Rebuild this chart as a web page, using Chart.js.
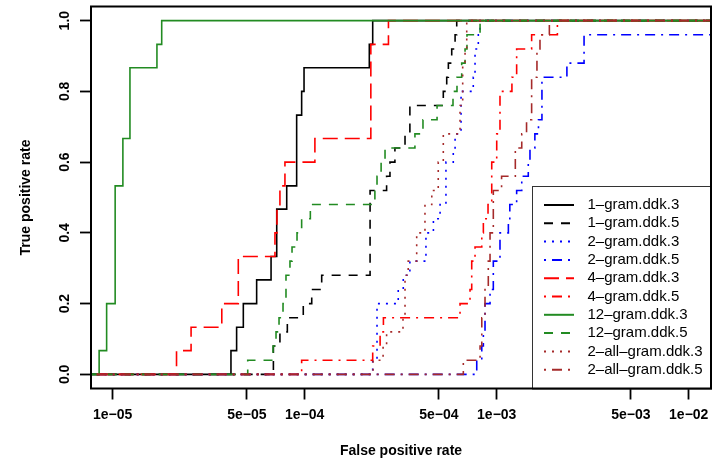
<!DOCTYPE html>
<html>
<head>
<meta charset="utf-8">
<script src="https://cdn.jsdelivr.net/npm/chart.js@4.4.0/dist/chart.umd.min.js"></script>
<style>
    html, body { margin: 0; padding: 0; background: #fff; }
</style>
</head>
<body>
<canvas id="rocChart" width="725" height="466"></canvas>
<script>
// ROC-Kurven: False positive rate (log) gegen True positive rate
const seriesNames = [
    '1–gram.ddk.3', '1–gram.ddk.5', '2–gram.ddk.3', '2–gram.ddk.5', '4–gram.ddk.3',
    '4–gram.ddk.5', '12–gram.ddk.3', '12–gram.ddk.5', '2–all–gram.ddk.3', '2–all–gram.ddk.5'
];
const xTicks = [1e-5, 5e-5, 1e-4, 5e-4, 1e-3, 5e-3, 1e-2];
const yTicks = [0, 0.2, 0.4, 0.6, 0.8, 1.0];

const fpr1gram3 = [4.13e-5, 4.42e-5, 4.79e-5, 5.62e-5, 6.68e-5, 7.15e-5, 8.06e-5, 9.08e-5, 9.64e-5, 9.92e-5, 2.17e-4, 2.26e-4];
const tpr1gram3 = [0.067, 0.133, 0.2, 0.267, 0.333, 0.467, 0.533, 0.733, 0.8, 0.867, 0.933, 1.0];

const fpr1gram5 = [6.87e-5, 7.43e-5, 8.12e-5, 9.83e-5, 1.088e-4, 1.226e-4, 2.19e-4, 2.67e-4, 2.78e-4, 2.95e-4, 3.33e-4, 3.53e-4, 5.27e-4, 5.49e-4, 5.60e-4, 5.83e-4, 6.07e-4, 6.19e-4];
const tpr1gram5 = [0.08, 0.12, 0.16, 0.2, 0.24, 0.28, 0.52, 0.56, 0.6, 0.64, 0.68, 0.76, 0.8, 0.84, 0.88, 0.92, 0.96, 1.0];

const fpr2gram3 = [2.26e-4, 2.38e-4, 3.07e-4, 3.26e-4, 3.53e-4, 4.28e-4, 4.68e-4, 5.07e-4, 5.44e-4, 5.94e-4, 6.07e-4, 6.52e-4, 7.55e-4, 7.71e-4, 8.02e-4, 8.19e-4];
const tpr2gram3 = [0.04, 0.2, 0.24, 0.28, 0.32, 0.4, 0.44, 0.48, 0.6, 0.64, 0.68, 0.8, 0.84, 0.92, 0.96, 1.0];

const fpr2gram5 = [7.87e-4, 8.36e-4, 8.52e-4, 8.69e-4, 9.23e-4, 9.60e-4, 1.04e-3, 1.15e-3, 1.17e-3, 1.27e-3, 1.35e-3, 1.46e-3, 1.49e-3, 1.58e-3, 1.65e-3, 1.72e-3, 2.32e-3, 2.85e-3];
const tpr2gram5 = [0.04, 0.08, 0.12, 0.2, 0.24, 0.32, 0.4, 0.44, 0.48, 0.52, 0.56, 0.6, 0.64, 0.68, 0.72, 0.84, 0.88, 0.96];

const fpr4gram3 = [2.15e-5, 2.56e-5, 3.70e-5, 4.51e-5, 7.00e-5, 7.17e-5, 7.43e-5, 7.89e-5, 1.13e-4, 2.21e-4, 2.73e-4];
const tpr4gram3 = [0.067, 0.133, 0.2, 0.333, 0.4, 0.467, 0.533, 0.6, 0.667, 0.933, 1.0];

const fpr4gram5 = [9.64e-5, 2.26e-4, 2.47e-4, 2.57e-4, 6.44e-4, 7.26e-4, 7.41e-4, 7.71e-4, 8.36e-4, 8.52e-4, 9.01e-4, 9.42e-4, 1.0e-3, 1.04e-3, 1.20e-3, 1.27e-3, 1.52e-3, 2.07e-3];
const tpr4gram5 = [0.04, 0.08, 0.12, 0.16, 0.2, 0.24, 0.32, 0.36, 0.4, 0.44, 0.48, 0.6, 0.68, 0.8, 0.84, 0.92, 0.96, 1.0];

const fpr12gram3 = [8.5e-6, 9.3e-6, 1.03e-5, 1.13e-5, 1.23e-5, 1.70e-5, 1.80e-5];
const tpr12gram3 = [0.067, 0.2, 0.533, 0.667, 0.867, 0.933, 1.0];

const fpr12gram5 = [5.05e-5, 6.84e-5, 7.09e-5, 7.35e-5, 7.71e-5, 7.99e-5, 8.38e-5, 8.59e-5, 9.12e-5, 9.64e-5, 1.07e-4, 2.32e-4, 2.38e-4, 2.50e-4, 2.62e-4, 3.75e-4, 4.13e-4, 4.89e-4, 5.92e-4, 6.21e-4, 6.57e-4, 6.84e-4, 7.00e-4, 8.19e-4];
const tpr12gram5 = [0.04, 0.08, 0.12, 0.16, 0.2, 0.28, 0.32, 0.36, 0.4, 0.44, 0.48, 0.52, 0.56, 0.6, 0.64, 0.68, 0.72, 0.76, 0.8, 0.84, 0.88, 0.92, 0.96, 1.0];

const fpr2all3 = [2.27e-4, 2.56e-4, 2.67e-4, 3.25e-4, 3.33e-4, 3.46e-4, 3.83e-4, 4.23e-4, 4.59e-4, 4.96e-4, 5.27e-4, 6.44e-4, 6.65e-4, 6.84e-4, 6.98e-4];
const tpr2all3 = [0.04, 0.08, 0.12, 0.16, 0.28, 0.32, 0.4, 0.48, 0.52, 0.6, 0.68, 0.76, 0.88, 0.92, 1.0];

const fpr2all5 = [6.70e-4, 8.19e-4, 8.36e-4, 8.69e-4, 9.04e-4, 9.23e-4, 9.60e-4, 1.06e-3, 1.25e-3, 1.35e-3, 1.43e-3, 1.52e-3, 1.62e-3, 1.68e-3, 1.88e-3];
const tpr2all5 = [0.04, 0.08, 0.16, 0.24, 0.32, 0.4, 0.52, 0.56, 0.64, 0.68, 0.72, 0.84, 0.92, 0.96, 1.0];

const fprSeries = [fpr1gram3, fpr1gram5, fpr2gram3, fpr2gram5, fpr4gram3, fpr4gram5, fpr12gram3, fpr12gram5, fpr2all3, fpr2all5];
const tprSeries = [tpr1gram3, tpr1gram5, tpr2gram3, tpr2gram5, tpr4gram3, tpr4gram5, tpr12gram3, tpr12gram5, tpr2all3, tpr2all5];

// Linienstile wie in R (lty)
const DASHED = [9, 8], DOTTED = [2, 6], DOTDASH = [2, 6, 10, 6], LONGDASH = [15, 7];
const seriesColors = ['#000000', '#000000', '#0000ff', '#0000ff', '#ff0000', '#ff0000', '#228b22', '#228b22', '#a52a2a', '#a52a2a'];
const seriesDash = [[], DASHED, DOTTED, DOTDASH, LONGDASH, DOTDASH, [], DASHED, DOTTED, DOTDASH];

const FONT = '"Liberation Sans", Arial, sans-serif';

const fmtSci = (v) => {
    const e = Math.floor(Math.log10(v) + 1e-9);
    const m = Math.round(v / Math.pow(10, e));
    return m + 'e' + (e < 0 ? '−' : '+') + String(Math.abs(e)).padStart(2, '0');
};

// Kurven laufen links bei 0 los und rechts beim letzten Wert aus
const makeData = (fpr, tpr) => {
    const pts = [{ x: 1e-6, y: 0 }];
    fpr.forEach((x, i) => pts.push({ x: x, y: tpr[i] }));
    pts.push({ x: 1, y: tpr[tpr.length - 1] });
    return pts;
};

const rPlot = {
    id: 'rPlot',
    afterDatasetsDraw(chart) {
        const { ctx, chartArea: a } = chart;
        // Legende unten rechts im Plotbereich
        const lw = 179, lh = 202.5;
        const lx = a.right - lw, ly = a.bottom - lh;
        ctx.save();
        ctx.fillStyle = '#fff';
        ctx.fillRect(lx, ly, lw, lh);
        ctx.strokeStyle = '#333';
        ctx.lineWidth = 1;
        ctx.strokeRect(lx + 0.5, ly + 0.5, lw, lh);
        ctx.font = '15px ' + FONT;
        ctx.textBaseline = 'middle';
        chart.data.datasets.forEach((ds, i) => {
            const y = ly + 19 + i * 18.3;
            ctx.beginPath();
            ctx.setLineDash(ds.borderDash);
            ctx.strokeStyle = ds.borderColor;
            ctx.lineWidth = 2;
            ctx.moveTo(lx + 12, y);
            ctx.lineTo(lx + 42, y);
            ctx.stroke();
            ctx.setLineDash([]);
            ctx.fillStyle = '#000';
            ctx.fillText(ds.label, lx + 55.5, y);
        });
        ctx.restore();
    },
    afterDraw(chart) {
        const { ctx, chartArea: a } = chart;
        ctx.save();
        ctx.strokeStyle = '#000';
        ctx.lineWidth = 2;
        ctx.strokeRect(a.left, a.top, a.right - a.left, a.bottom - a.top);
        // y-Beschriftung gedreht wie in R
        const ys = chart.scales.y;
        ctx.fillStyle = '#000';
        ctx.font = 'bold 14px ' + FONT;
        ctx.textAlign = 'center';
        ctx.textBaseline = 'middle';
        yTicks.forEach(v => {
            ctx.save();
            ctx.translate(a.left - 26, ys.getPixelForValue(v));
            ctx.rotate(-Math.PI / 2);
            ctx.fillText(v.toFixed(1), 0, 0);
            ctx.restore();
        });
        ctx.restore();
    }
};

const createRocChart = () => {
    const ctx = document.getElementById('rocChart').getContext('2d');
    new Chart(ctx, {
        type: 'scatter',
        data: {
            datasets: seriesNames.map((name, i) => ({
                label: name,
                data: makeData(fprSeries[i], tprSeries[i]),
                showLine: true,
                stepped: 'before',
                borderColor: seriesColors[i],
                borderDash: seriesDash[i],
                borderWidth: 1.6,
                pointRadius: 0,
                fill: false,
                clip: 0,
                order: seriesNames.length - i
            }))
        },
        options: {
            responsive: false,
            animation: false,
            events: [],
            devicePixelRatio: 1,
            layout: { padding: { top: 6.5, right: 14, left: 0, bottom: 0 } },
            plugins: {
                legend: { display: false },
                tooltip: { enabled: false }
            },
            scales: {
                x: {
                    type: 'logarithmic',
                    min: 7.71e-6,
                    max: 1.306e-2,
                    afterBuildTicks: (scale) => { scale.ticks = xTicks.map(v => ({ value: v })); },
                    afterFit: (scale) => { scale.height = 77.5; },
                    border: { display: false },
                    grid: { drawOnChartArea: false, drawTicks: true, tickLength: 11, tickColor: '#000', tickWidth: 1.8 },
                    ticks: {
                        autoSkip: false,
                        maxRotation: 0,
                        padding: 7,
                        color: '#000',
                        font: { family: FONT, size: 14, weight: 'bold' },
                        callback: (v) => fmtSci(v)
                    },
                    title: {
                        display: true,
                        text: 'False positive rate',
                        color: '#000',
                        font: { family: FONT, size: 14, weight: 'bold' },
                        padding: { top: 0, bottom: 6 }
                    }
                },
                y: {
                    min: -0.04,
                    max: 1.04,
                    afterBuildTicks: (scale) => { scale.ticks = yTicks.map(v => ({ value: v })); },
                    afterFit: (scale) => { scale.width = 91; },
                    border: { display: false },
                    grid: { drawOnChartArea: false, drawTicks: true, tickLength: 11, tickColor: '#000', tickWidth: 1.8 },
                    ticks: { display: false },
                    title: {
                        display: true,
                        text: 'True positive rate',
                        color: '#000',
                        font: { family: FONT, size: 14, weight: 'bold' },
                        padding: { top: 18, bottom: 0 }
                    }
                }
            }
        },
        plugins: [rPlot]
    });
};

document.addEventListener('DOMContentLoaded', createRocChart);
</script>
</body>
</html>
